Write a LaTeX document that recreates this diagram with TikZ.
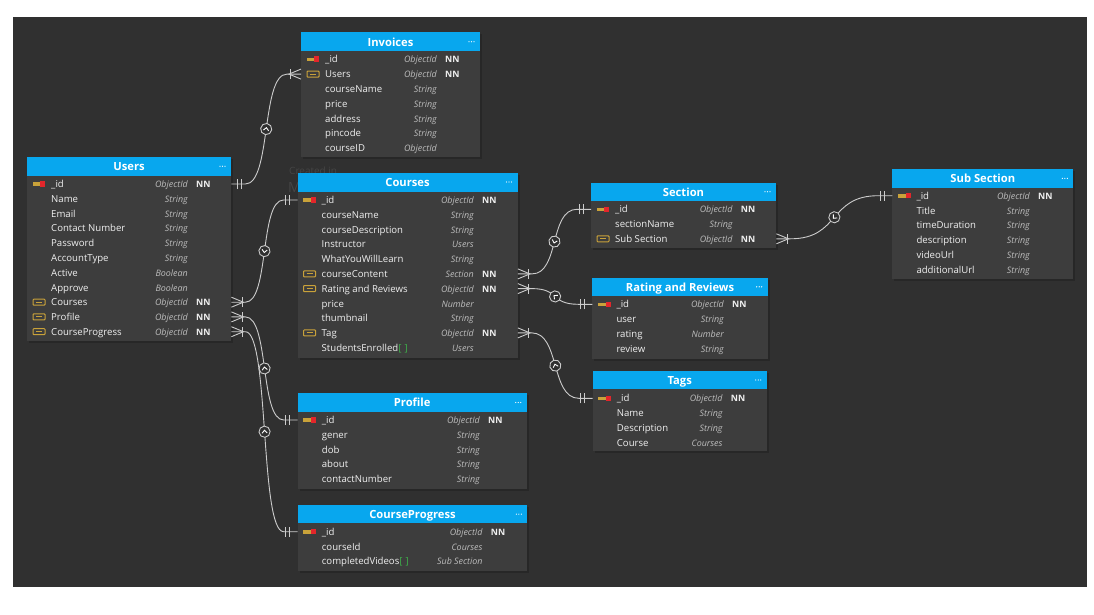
\documentclass[tikz,border=0pt]{standalone}
\usepackage{fontspec}
\setmainfont{Open Sans}
\usetikzlibrary{decorations.markings}

\definecolor{canvas}{HTML}{303030}
\definecolor{tablebody}{HTML}{3D3D3D}
\definecolor{tableshadow}{HTML}{272727}
\definecolor{headerblue}{HTML}{08A7EE}
\definecolor{fieldtext}{HTML}{F0F0F0}
\definecolor{typetext}{HTML}{BDBDBD}
\definecolor{wirecolor}{HTML}{CCCCCC}
\definecolor{keygold}{HTML}{C9A23A}
\definecolor{keyred}{HTML}{E3262B}
\definecolor{arraygreen}{HTML}{3DB04A}
\definecolor{watermark}{HTML}{454545}

\tikzset{
  rowbox/.style={inner sep=0pt, minimum height=14.7pt, anchor=west},
  tabletitle/.style={anchor=base, inner sep=0pt, text=white, font=\fontsize{11.2}{13}\selectfont\bfseries},
  fieldname/.style={anchor=base west, inner sep=0pt, text=fieldtext, font=\fontsize{9.6}{11}\selectfont},
  fieldtype/.style={anchor=base east, inner sep=0pt, text=typetext, font=\fontsize{8.9}{10}\selectfont\itshape},
  fieldnn/.style={anchor=base west, inner sep=0pt, text=fieldtext, font=\fontsize{8.8}{10}\selectfont\bfseries},
  wire/.style={draw=wirecolor, line width=0.9pt},
  keyicon/.pic={
    \fill[keygold] (-6.5,-1.6) rectangle (1.5,2);
    \fill[keyred] (1.2,-2.8) rectangle (6.3,2.6);
  },
  linkicon/.pic={
    \draw[keygold, line width=1pt, rounded corners=0.8pt] (-6,-3) rectangle (6,3);
    \draw[keygold, line width=1pt] (-3,0) -- (3,0);
  },
  noicon/.pic={},
  chevback/.style={postaction={decorate, decoration={markings,
    mark=at position 0.5 with {
      \draw[draw=wirecolor, fill=canvas, line width=0.9pt] (0pt,0pt) circle (5.6pt);
      \draw[white, line width=0.9pt] (1.4pt,-2.6pt) -- (-1.4pt,0pt) -- (1.4pt,2.6pt);
    }}}},
  chevfwd/.style={postaction={decorate, decoration={markings,
    mark=at position 0.5 with {
      \draw[draw=wirecolor, fill=canvas, line width=0.9pt] (0pt,0pt) circle (5.6pt);
      \draw[white, line width=0.9pt] (-1.4pt,-2.6pt) -- (1.4pt,0pt) -- (-1.4pt,2.6pt);
    }}}},
}

% table frame: name, left, top, right, header bottom, bottom, type column offset, title
\newcommand\erdtable[8]{%
  \fill[tableshadow] (#2+2,#3+2) rectangle (#4+2,#6+2);
  \fill[tablebody] (#2,#5) rectangle (#4,#6);
  \fill[headerblue] (#2,#3) rectangle (#4,#5);
  \node[tabletitle] (#1) at ({(#2+#4)/2},{(#3+#5)/2+4.4}) {#8};
  \foreach \dd in {-11,-8.5,-6} \fill[white] (#4+\dd,{(#3+#5)/2}) circle (0.65pt);
  \def\tblL{#2}\pgfmathsetmacro\tblW{#4-#2}\def\tblT{#7}%
}

% table row: node name, y, icon, field, type, NN flag
\newcommand\erow[6]{%
  \node[rowbox, minimum width=\tblW pt] (#1) at (\tblL,#2) {};
  \pic at (\tblL+12,#2) {#3};
  \node[fieldname] (#1-name) at (\tblL+24,#2+3.6) {#4};
  \node[fieldtype] (#1-type) at (\tblL+\tblT,#2+3.6) {#5};
  \if\relax\detokenize{#6}\relax\else
    \node[fieldnn] (#1-nn) at (\tblL+\tblT+8,#2+3.6) {#6};
  \fi
}

% relation: many side on the left row, one side on the right row
\newcommand\manyone[3]{%
  \draw[wire, chevback] (#1.east) -- ++(14,0) .. controls +(#3,0) and +(-#3,0) .. ([xshift=-14pt]#2.west) -- (#2.west);
  \draw[wire] ([yshift=-5pt]#1.east) -- ([xshift=12pt]#1.east) -- ([yshift=5pt]#1.east);
  \draw[wire] ([xshift=11pt,yshift=-5pt]#1.east) -- ([xshift=11pt,yshift=5pt]#1.east);
  \draw[wire] ([xshift=-8pt,yshift=-5pt]#2.west) -- ([xshift=-8pt,yshift=5pt]#2.west);
  \draw[wire] ([xshift=-12pt,yshift=-5pt]#2.west) -- ([xshift=-12pt,yshift=5pt]#2.west);
}
% relation: one side on the left row, many side on the right row
\newcommand\onemany[3]{%
  \draw[wire, chevfwd] (#1.east) -- ++(14,0) .. controls +(#3,0) and +(-#3,0) .. ([xshift=-14pt]#2.west) -- (#2.west);
  \draw[wire] ([xshift=6pt,yshift=-5pt]#1.east) -- ([xshift=6pt,yshift=5pt]#1.east);
  \draw[wire] ([xshift=10pt,yshift=-5pt]#1.east) -- ([xshift=10pt,yshift=5pt]#1.east);
  \draw[wire] ([yshift=-5pt]#2.west) -- ([xshift=-12pt]#2.west) -- ([yshift=5pt]#2.west);
  \draw[wire] ([xshift=-11pt,yshift=-5pt]#2.west) -- ([xshift=-11pt,yshift=5pt]#2.west);
}

\begin{document}
\begin{tikzpicture}[x=1pt, y=-1pt]
\useasboundingbox (0,0) rectangle (1094,615);
\fill[white] (0,0) rectangle (1094,615);
\fill[canvas] (13,17) rectangle (1087,587);

% faint tool credit, mostly covered by the Courses table
\node[anchor=base west, inner sep=0pt, text=watermark, font=\fontsize{10}{12}\selectfont] (credit1) at (289,174) {Created in};
\node[anchor=base west, inner sep=0pt, text=watermark, font=\fontsize{14}{16}\selectfont] (credit2) at (288,192) {Moon Modeler};

% ---------- Users ----------
\erdtable{users}{27}{157}{231}{175.5}{341}{161}{Users}
\erow{users-id}{184}{keyicon}{\_id}{ObjectId}{NN}
\erow{users-name}{198.8}{noicon}{Name}{String}{}
\erow{users-email}{213.5}{noicon}{Email}{String}{}
\erow{users-contact}{228.3}{noicon}{Contact Number}{String}{}
\erow{users-password}{243.1}{noicon}{Password}{String}{}
\erow{users-accounttype}{257.9}{noicon}{AccountType}{String}{}
\erow{users-active}{272.6}{noicon}{Active}{Boolean}{}
\erow{users-approve}{287.4}{noicon}{Approve}{Boolean}{}
\erow{users-courses}{302.2}{linkicon}{Courses}{ObjectId}{NN}
\erow{users-profile}{316.9}{linkicon}{Profile}{ObjectId}{NN}
\erow{users-progress}{331.7}{linkicon}{CourseProgress}{ObjectId}{NN}

% ---------- Invoices ----------
\erdtable{invoices}{301}{32.5}{480}{51}{157}{136}{Invoices}
\erow{inv-id}{59.3}{keyicon}{\_id}{ObjectId}{NN}
\erow{inv-users}{74.1}{linkicon}{Users}{ObjectId}{NN}
\erow{inv-coursename}{88.8}{noicon}{courseName}{String}{}
\erow{inv-price}{103.6}{noicon}{price}{String}{}
\erow{inv-address}{118.4}{noicon}{address}{String}{}
\erow{inv-pincode}{133.2}{noicon}{pincode}{String}{}
\erow{inv-courseid}{147.9}{noicon}{courseID}{ObjectId}{}

% ---------- Courses ----------
\erdtable{courses}{297.5}{172.5}{517.5}{191.5}{357.5}{176.5}{Courses}
\erow{crs-id}{200}{keyicon}{\_id}{ObjectId}{NN}
\erow{crs-name}{214.8}{noicon}{courseName}{String}{}
\erow{crs-desc}{229.5}{noicon}{courseDescription}{String}{}
\erow{crs-instructor}{244.3}{noicon}{Instructor}{Users}{}
\erow{crs-learn}{259.1}{noicon}{WhatYouWillLearn}{String}{}
\erow{crs-content}{273.9}{linkicon}{courseContent}{Section}{NN}
\erow{crs-rating}{288.6}{linkicon}{Rating and Reviews}{ObjectId}{NN}
\erow{crs-price}{303.4}{noicon}{price}{Number}{}
\erow{crs-thumb}{318.2}{noicon}{thumbnail}{String}{}
\erow{crs-tag}{332.9}{linkicon}{Tag}{ObjectId}{NN}
\erow{crs-students}{347.7}{noicon}{StudentsEnrolled{\color{arraygreen}[\,\,]}}{Users}{}

% ---------- Section ----------
\erdtable{section}{591}{182.5}{776}{201}{248}{141.7}{Section}
\erow{sec-id}{209.3}{keyicon}{\_id}{ObjectId}{NN}
\erow{sec-name}{224.1}{noicon}{sectionName}{String}{}
\erow{sec-sub}{238.8}{linkicon}{Sub Section}{ObjectId}{NN}

% ---------- Rating and Reviews ----------
\erdtable{rating}{592.3}{277.7}{767.7}{296}{359}{131.7}{Rating and Reviews}
\erow{rat-id}{304.3}{keyicon}{\_id}{ObjectId}{NN}
\erow{rat-user}{319.1}{noicon}{user}{String}{}
\erow{rat-rating}{333.8}{noicon}{rating}{Number}{}
\erow{rat-review}{348.6}{noicon}{review}{String}{}

% ---------- Tags ----------
\erdtable{tags}{592.7}{370.7}{766.7}{389.3}{451}{130}{Tags}
\erow{tag-id}{398.3}{keyicon}{\_id}{ObjectId}{NN}
\erow{tag-name}{413.1}{noicon}{Name}{String}{}
\erow{tag-desc}{427.8}{noicon}{Description}{String}{}
\erow{tag-course}{442.6}{noicon}{Course}{Courses}{}

% ---------- Sub Section ----------
\erdtable{subsection}{892.3}{169}{1073.3}{187.7}{279}{137.7}{Sub Section}
\erow{sub-id}{195.7}{keyicon}{\_id}{ObjectId}{NN}
\erow{sub-title}{210.5}{noicon}{Title}{String}{}
\erow{sub-duration}{225.2}{noicon}{timeDuration}{String}{}
\erow{sub-desc}{240}{noicon}{description}{String}{}
\erow{sub-video}{254.8}{noicon}{videoUrl}{String}{}
\erow{sub-extra}{269.6}{noicon}{additionalUrl}{String}{}

% ---------- Profile ----------
\erdtable{profile}{297.7}{393.3}{526.7}{411.7}{489.3}{182.3}{Profile}
\erow{pro-id}{420}{keyicon}{\_id}{ObjectId}{NN}
\erow{pro-gener}{434.8}{noicon}{gener}{String}{}
\erow{pro-dob}{449.5}{noicon}{dob}{String}{}
\erow{pro-about}{464.3}{noicon}{about}{String}{}
\erow{pro-contact}{479.1}{noicon}{contactNumber}{String}{}

% ---------- CourseProgress ----------
\erdtable{progress}{297.7}{505}{527.3}{523.3}{570.7}{185}{CourseProgress}
\erow{prg-id}{531.7}{keyicon}{\_id}{ObjectId}{NN}
\erow{prg-course}{546.5}{noicon}{courseId}{Courses}{}
\erow{prg-videos}{561.2}{noicon}{completedVideos{\color{arraygreen}[\,\,]}}{Sub Section}{}

% ---------- relations ----------
\onemany{users-id}{inv-users}{26}
\manyone{users-courses}{crs-id}{24}
\manyone{users-profile}{pro-id}{24}
\manyone{users-progress}{prg-id}{24}
\manyone{crs-content}{sec-id}{28}
\manyone{crs-rating}{rat-id}{28}
\manyone{crs-tag}{tag-id}{28}
\manyone{sec-sub}{sub-id}{50}
\end{tikzpicture}
\end{document}
